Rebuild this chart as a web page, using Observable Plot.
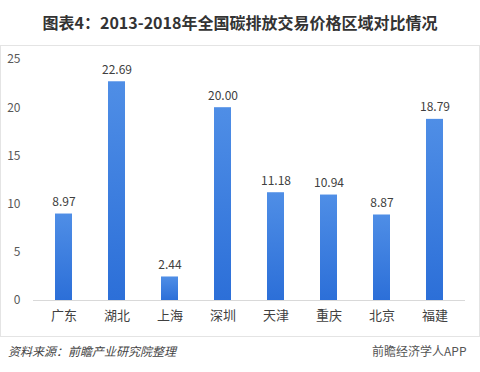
<!DOCTYPE html>
<html><head><meta charset="utf-8">
<script src="https://cdn.jsdelivr.net/npm/d3@7"></script>
<script src="https://cdn.jsdelivr.net/npm/@observablehq/plot@0.6"></script>
<style>
body{margin:0;background:#fff;font-family:"Noto Sans CJK SC","Noto Sans",sans-serif;}
#wrap{position:relative;width:480px;height:372px;overflow:hidden;}
#title{position:absolute;top:10px;left:0;width:480px;text-align:center;font-weight:bold;font-size:16px;color:#333;}
#box{position:absolute;top:45px;left:0;width:478px;height:290px;border:1px solid #e4e4e4;}
#chart{position:absolute;top:45px;left:0;}
#cap{position:absolute;top:342px;left:8px;font-style:italic;font-size:12px;color:#444;}
#wm{position:absolute;top:342px;left:372px;font-size:12px;color:#555;}
</style></head>
<body><div id="wrap">
<div id="title">图表4：2013-2018年全国碳排放交易价格区域对比情况</div>
<div id="box"></div>
<div id="chart"></div>
<div id="cap">资料来源：前瞻产业研究院整理</div>
<div id="wm">前瞻经济学人APP</div>
</div>
<script>
const regions = ["广东","湖北","上海","深圳","天津","重庆","北京","福建"];
const prices = [8.97,22.69,2.44,20.00,11.18,10.94,8.87,18.79];
const yTicks = [0,5,10,15,20,25];
const data = regions.map((r,i)=>({region:r, price:prices[i]}));

const chart = Plot.plot({
  width:480, height:290,
  marginTop:14, marginBottom:35, marginLeft:33, marginRight:15,
  style:{fontFamily:'"Noto Sans CJK SC","Noto Sans",sans-serif', background:"transparent"},
  x:{domain:regions, paddingInner:0.68, paddingOuter:0.35, label:null},
  y:{domain:[0,25], ticks:yTicks, label:null},
  marks:[
    () => {
      const ns="http://www.w3.org/2000/svg";
      const defs=document.createElementNS(ns,"defs");
      defs.innerHTML='<linearGradient id="bg" x1="0" y1="0" x2="0" y2="1"><stop offset="0" stop-color="#4f8ee6"/><stop offset="1" stop-color="#2c6fd8"/></linearGradient>';
      return defs;
    },
    Plot.axisY({ticks:yTicks, tickSize:0, tickPadding:13, fontSize:12, fill:"#595959", textAnchor:"end"}),
    Plot.axisX({tickSize:0, tickPadding:10, fontSize:13, fill:"#404040"}),
    Plot.barY(data,{x:"region", y:"price", fill:"url(#bg)"}),
    Plot.ruleY([0],{stroke:"#d9d9d9"}),
    Plot.text(data,{x:"region", y:"price", text:d=>d.price.toFixed(2), dy:-12, fontSize:12, fill:"#404040"})
  ]
});
document.getElementById("chart").appendChild(chart);
</script>
</body></html>
